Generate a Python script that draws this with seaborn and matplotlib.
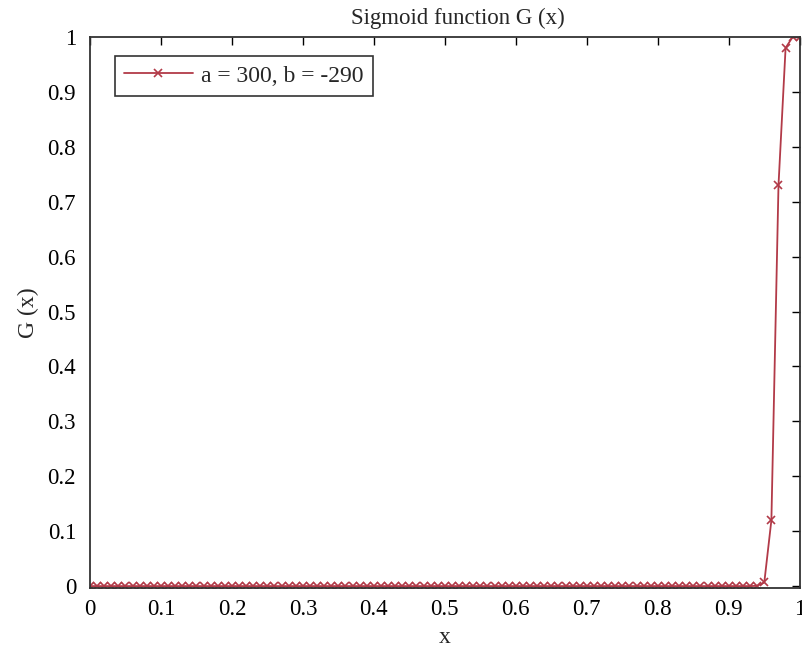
import matplotlib
matplotlib.use("Agg")
import matplotlib.pyplot as plt
import seaborn as sns
import pandas as pd

x_values = [0.00, 0.01, 0.02, 0.03, 0.04, 0.05, 0.06, 0.07, 0.08, 0.09,
            0.10, 0.11, 0.12, 0.13, 0.14, 0.15, 0.16, 0.17, 0.18, 0.19,
            0.20, 0.21, 0.22, 0.23, 0.24, 0.25, 0.26, 0.27, 0.28, 0.29,
            0.30, 0.31, 0.32, 0.33, 0.34, 0.35, 0.36, 0.37, 0.38, 0.39,
            0.40, 0.41, 0.42, 0.43, 0.44, 0.45, 0.46, 0.47, 0.48, 0.49,
            0.50, 0.51, 0.52, 0.53, 0.54, 0.55, 0.56, 0.57, 0.58, 0.59,
            0.60, 0.61, 0.62, 0.63, 0.64, 0.65, 0.66, 0.67, 0.68, 0.69,
            0.70, 0.71, 0.72, 0.73, 0.74, 0.75, 0.76, 0.77, 0.78, 0.79,
            0.80, 0.81, 0.82, 0.83, 0.84, 0.85, 0.86, 0.87, 0.88, 0.89,
            0.90, 0.91, 0.92, 0.93, 0.94, 0.95, 0.96, 0.97, 0.98, 0.99,
            1.00]
g_values = [0, 0, 0, 0, 0, 0, 0, 0, 0, 0,
            0, 0, 0, 0, 0, 0, 0, 0, 0, 0,
            0, 0, 0, 0, 0, 0, 0, 0, 0, 0,
            0, 0, 0, 0, 0, 0, 0, 0, 0, 0,
            0, 0, 0, 0, 0, 0, 0, 0, 0, 0,
            0, 0, 0, 0, 0, 0, 0, 0, 0, 0,
            0, 0, 0, 0, 0, 0, 0, 0, 0, 0,
            0, 0, 0, 0, 0, 0, 0, 0, 0, 0,
            0, 0, 0, 0, 0, 0, 0, 0, 0, 0,
            0, 0, 0, 0, 0.0005, 0.0067, 0.12, 0.73, 0.98, 1.0,
            1.0]
series_label = "a = 300, b = -290"
x_ticks = [0, 0.1, 0.2, 0.3, 0.4, 0.5, 0.6, 0.7, 0.8, 0.9, 1]
x_tick_labels = ["0", "0.1", "0.2", "0.3", "0.4", "0.5", "0.6", "0.7", "0.8", "0.9", "1"]
y_ticks = [0, 0.1, 0.2, 0.3, 0.4, 0.5, 0.6, 0.7, 0.8, 0.9, 1]
y_tick_labels = ["0", "0.1", "0.2", "0.3", "0.4", "0.5", "0.6", "0.7", "0.8", "0.9", "1"]

df = pd.DataFrame({"x": x_values, "G": g_values, "series": series_label})

sns.set_style("white")
plt.rcParams["font.family"] = ["Liberation Serif", "DejaVu Serif"]

fig = plt.figure(figsize=(8.03, 6.48), dpi=100)
ax = fig.add_axes([0.112, 0.093, 0.884, 0.850])

line_color = "#b23a48"
sns.lineplot(data=df, x="x", y="G", hue="series", palette=[line_color],
             marker="x", markersize=6, markeredgewidth=1.2,
             markeredgecolor=line_color, markerfacecolor=line_color,
             linewidth=1.3, ax=ax, legend=True)

ax.set_xlim(0, 1)
ax.set_ylim(-0.003, 1)
ax.set_xticks(x_ticks)
ax.set_xticklabels(x_tick_labels)
ax.set_yticks(y_ticks)
ax.set_yticklabels(y_tick_labels)
ax.tick_params(direction="in", length=6, width=1, labelsize=16.5, colors="black",
               top=True, right=True, pad=8)
ax.tick_params(axis="y", pad=10)
for s in ax.spines.values():
    s.set_color("#333333")
    s.set_linewidth(1.3)
    s.set_visible(True)

ax.set_title("Sigmoid function G (x)", fontsize=16.5, pad=9, x=0.518)
ax.set_xlabel("x", fontsize=17, labelpad=5)
ax.set_ylabel("G (x)", fontsize=17, labelpad=6)

leg = ax.legend(loc="upper left", bbox_to_anchor=(0.025, 0.979), fontsize=17,
                frameon=True, fancybox=False, handlelength=2.9,
                borderpad=0.4, handletextpad=0.35, borderaxespad=0.3)
leg.get_frame().set_edgecolor("black")
leg.get_frame().set_linewidth(1.2)

fig.savefig("out.png", dpi=100)
